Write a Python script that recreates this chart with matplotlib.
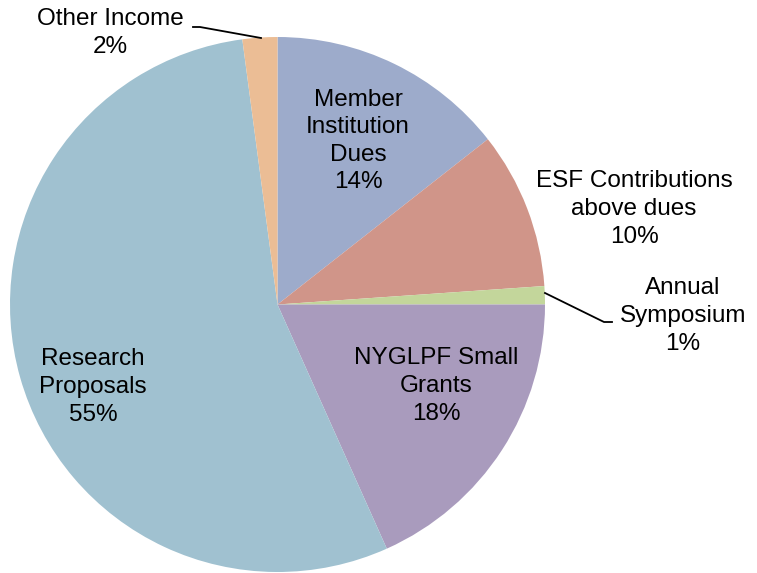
import matplotlib.pyplot as plt

labels = ["Member\nInstitution\nDues", "ESF Contributions\nabove dues", "Annual\nSymposium",
          "NYGLPF Small\nGrants", "Research\nProposals", "Other Income"]
values = [14.4, 9.5, 1.1, 18.3, 54.6, 2.1]
shown = ["14%", "10%", "1%", "18%", "55%", "2%"]
colors = ["#9dabcb", "#d09589", "#c3d69b", "#a99bbd", "#a0c1d0", "#ebbd95"]

# label centres in pixel coords (x, y from top)
label_pos = [(358, 141), (634, 209), (683, 316), (436, 386), (93, 387), (110, 33)]

W, H = 757, 573
fig = plt.figure(figsize=(W / 100, H / 100), dpi=100)
ax = fig.add_axes([0, 0, 1, 1])

cx, cy, r = 277.5, H - 304.5, 267.5
ax.pie(values, colors=colors, startangle=90, counterclock=False,
       center=(cx, cy), radius=r, frame=True,
       wedgeprops=dict(linewidth=0))
ax.set_xlim(0, W)
ax.set_ylim(0, H)
ax.set_aspect("equal")
ax.axis("off")

for lab, pct, (x, y) in zip(labels, shown, label_pos):
    ax.text(x, H - y, lab + "\n" + pct, ha="center", va="center",
            fontsize=17.5, family="Liberation Sans", linespacing=1.33, color="black")

# leader lines
ax.plot([193, 200, 261], [H - 27, H - 27, H - 38], color="black", lw=1.3)
ax.plot([545, 604, 612], [H - 293, H - 322, H - 322], color="black", lw=1.3)

fig.savefig("out.png", dpi=100)
